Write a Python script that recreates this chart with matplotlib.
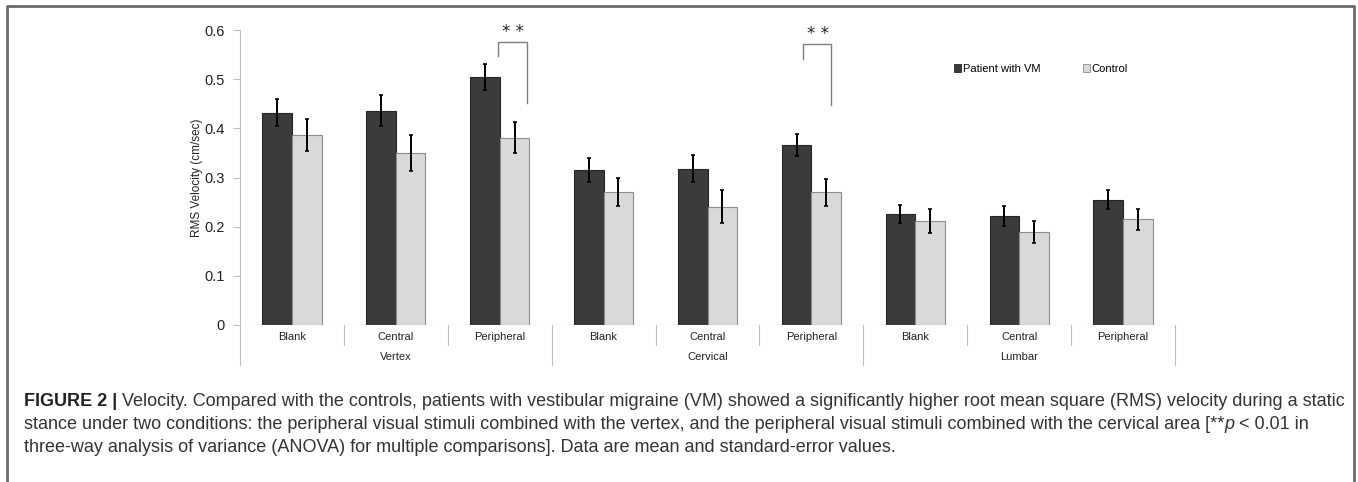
import matplotlib
matplotlib.use('Agg')
import matplotlib.pyplot as plt
from matplotlib.patches import Patch
from matplotlib import font_manager

plt.rcParams['font.family'] = ['Liberation Sans', 'DejaVu Sans']

# data
conditions = ['Blank', 'Central', 'Peripheral'] * 3
regions = ['Vertex', 'Cervical', 'Lumbar']
patient_vm = [0.432, 0.436, 0.504, 0.315, 0.318, 0.366, 0.226, 0.222, 0.255]
patient_se = [0.027, 0.031, 0.027, 0.024, 0.027, 0.022, 0.019, 0.020, 0.019]
control = [0.386, 0.350, 0.381, 0.270, 0.241, 0.270, 0.212, 0.189, 0.215]
control_se = [0.032, 0.037, 0.032, 0.028, 0.033, 0.027, 0.024, 0.023, 0.021]
# significance brackets: (category, left offset, right offset, top, left foot, right foot)
brackets = [(2, -0.017, 0.26, 0.575, 0.547, 0.452),
            (5, -0.08, 0.19, 0.5715, 0.541, 0.447)]

W, H = 1358, 482
fig = plt.figure(figsize=(W / 100, H / 100), dpi=100)

# figure frame (open at the bottom)
fig.add_artist(plt.Line2D([7 / W, 7 / W, 1354 / W, 1354 / W],
                          [0, 1 - 6 / H, 1 - 6 / H, 0],
                          transform=fig.transFigure, color='#6b6b6b', lw=2))

ax = fig.add_axes([240 / W, (H - 325) / H, 935 / W, 295 / H])
x = list(range(len(conditions)))
w = 0.285
ax.bar([i - w / 2 for i in x], patient_vm, w, color='#3b3b3b', edgecolor='#262626', lw=0.8,
       yerr=patient_se, error_kw=dict(ecolor='black', elinewidth=1.4, capsize=1.5, capthick=1.2),
       zorder=2)
ax.bar([i + w / 2 for i in x], control, w, color='#d9d9d9', edgecolor='#8c8c8c', lw=0.8,
       yerr=control_se, error_kw=dict(ecolor='black', elinewidth=1.4, capsize=1.5, capthick=1.2),
       zorder=2)

ax.set_xlim(-0.5, len(conditions) - 0.5)
ax.set_ylim(0, 0.6)
ax.set_yticks([0, 0.1, 0.2, 0.3, 0.4, 0.5, 0.6])
ax.set_yticklabels(['0', '0.1', '0.2', '0.3', '0.4', '0.5', '0.6'])
ax.tick_params(axis='y', length=5, width=0.8, color='#bfbfbf', labelsize=10.5,
               labelcolor='#222222', pad=6)
ax.set_xticks([])
for s in ['top', 'right', 'bottom']:
    ax.spines[s].set_visible(False)
ax.spines['left'].set_color('#bfbfbf')
ax.spines['left'].set_linewidth(0.8)
ax.axhline(0, color='#bfbfbf', lw=0.8, zorder=3)
ax.set_ylabel('RMS Velocity (cm/sec)', fontsize=8.5, color='#222222', labelpad=1)

# two-level category axis
tr = ax.get_xaxis_transform()
px = 1 / 295  # one pixel in axes-height units
for k in range(len(conditions) + 1):
    b = k - 0.5
    low = -40 * px if k % 3 == 0 else -20 * px
    ax.plot([b, b], [0, low], transform=tr, color='#bfbfbf', lw=0.8, clip_on=False)
for i, c in enumerate(conditions):
    ax.text(i, -12 * px, c, transform=tr, ha='center', va='center', fontsize=8, color='#222222')
for g, r in enumerate(regions):
    ax.text(3 * g + 1, -32 * px, r, transform=tr, ha='center', va='center', fontsize=8,
            color='#222222')

# significance brackets
for cat, lo, ro, top, lf, rf in brackets:
    ax.plot([cat + lo, cat + lo, cat + ro, cat + ro], [lf, top, top, rf], color='#7f7f7f',
            lw=1, clip_on=False, zorder=3)
    ax.text(cat + (lo + ro) / 2 + 0.01, top + 0.02, '* *', ha='center', va='center',
            fontsize=12, family='DejaVu Sans', color='#222222', clip_on=False)

handles = [Patch(facecolor='#3b3b3b', edgecolor='#262626', lw=0.6),
           Patch(facecolor='#d9d9d9', edgecolor='#8c8c8c', lw=0.6)]
fig.legend(handles, ['Patient with VM', 'Control'], loc='center left',
           bbox_to_anchor=(954 / W, 1 - 69 / H), ncol=2, frameon=False, fontsize=8,
           handlelength=0.65, handleheight=0.65, handletextpad=0.15, columnspacing=3.8,
           borderpad=0, borderaxespad=0)

# caption
cap_lines = [
    'Velocity. Compared with the controls, patients with vestibular migraine (VM) showed a significantly higher root mean square (RMS) velocity during a static',
    'stance under two conditions: the peripheral visual stimuli combined with the vertex, and the peripheral visual stimuli combined with the cervical area [**',
    'three-way analysis of variance (ANOVA) for multiple comparisons]. Data are mean and standard-error values.',
]
narrow = [f.name for f in font_manager.fontManager.ttflist if f.name == 'Liberation Sans Narrow']
cap_font = 'Liberation Sans Narrow' if narrow else 'Liberation Sans'

fig.canvas.draw()
rend = fig.canvas.get_renderer()
size = 11.5
probe = fig.text(0, 0, 'FIGURE 2 | ' + cap_lines[0], fontsize=size, family=cap_font)
pw = probe.get_window_extent(rend).width
probe.remove()
size = size * 1319 / pw

base = [406, 429, 452]
t = fig.text(24 / W, 1 - base[0] / H, 'FIGURE 2 | ', fontsize=size, family=cap_font,
             weight='bold', color='#222222', va='baseline')
plt.annotate(cap_lines[0], xy=(1, 0), xycoords=t, va='bottom', ha='left',
             fontsize=size, family=cap_font, color='#333333')
t2 = fig.text(24 / W, 1 - base[1] / H, cap_lines[1], fontsize=size, family=cap_font,
              color='#333333', va='baseline')
t3 = plt.annotate('p', xy=(1, 0), xycoords=t2, va='bottom', ha='left', fontsize=size,
                  family=cap_font, style='italic', color='#333333')
plt.annotate(' < 0.01 in', xy=(1, 0), xycoords=t3, va='bottom', ha='left', fontsize=size,
             family=cap_font, color='#333333')
fig.text(24 / W, 1 - base[2] / H, cap_lines[2], fontsize=size, family=cap_font,
         color='#333333', va='baseline')

fig.savefig('out.png', dpi=100)
